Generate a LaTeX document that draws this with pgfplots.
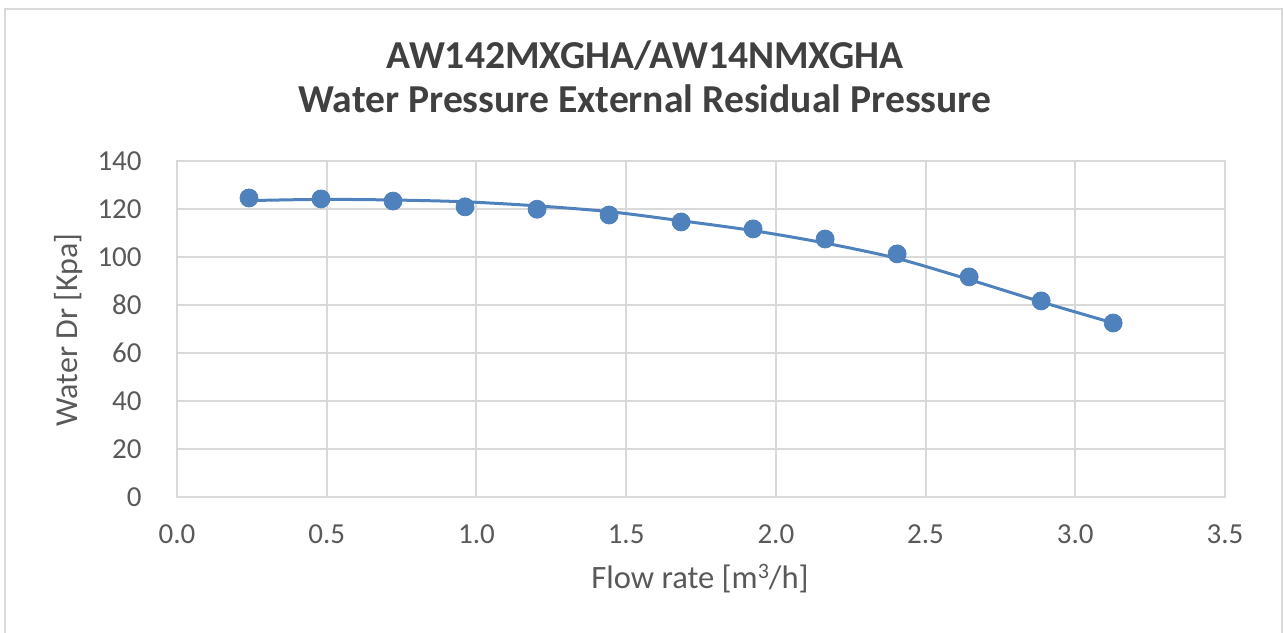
\documentclass[border=0pt]{standalone}
\usepackage{pgfplots}
\pgfplotsset{compat=1.18}
\usepackage{fontspec}
\setmainfont{Carlito}
\definecolor{ser}{RGB}{79,129,189}
\definecolor{txt}{RGB}{89,89,89}
\definecolor{ttl}{RGB}{64,64,64}
\definecolor{grd}{RGB}{217,217,217}
\begin{document}
\begin{tikzpicture}[x=0.5pt,y=0.5pt]
\useasboundingbox (0,0) rectangle (1284,632);
\draw[grd, line width=1pt] (5,623) rectangle (1282,-30);
\node[ttl, font=\fontsize{19.8}{23}\selectfont\bfseries, anchor=base] at (645,563) {AW142MXGHA/AW14NMXGHA};
\node[ttl, font=\fontsize{19.8}{23}\selectfont\bfseries, anchor=base] at (645,519) {Water Pressure External Residual Pressure};
\node[txt, font=\fontsize{16.3}{19}\selectfont, anchor=base] at (700,44) {Flow rate [m\raisebox{0.3em}{\fontsize{11}{12}\selectfont 3}/h]};
\node[txt, font=\fontsize{16}{19}\selectfont, anchor=base, rotate=90] at (78,302) {Water Dr [Kpa]};
\begin{axis}[
  at={(88.5pt,67.5pt)}, anchor=south west,
  scale only axis, width=524pt, height=168pt,
  xmin=0, xmax=3.5, ymin=0, ymax=140,
  xtick={0,0.5,1,1.5,2,2.5,3,3.5},
  ytick={0,20,40,60,80,100,120,140},
  grid=major,
  grid style={grd, line width=1pt},
  axis line style={grd, line width=1pt},
  major tick length=0pt,
  tick label style={txt, font=\fontsize{14.5}{17}\selectfont},
  /pgf/number format/assume math mode=true,
  x tick label style={/pgf/number format/fixed, /pgf/number format/fixed zerofill, /pgf/number format/precision=1},
  yticklabel style={inner sep=0pt, anchor=east, xshift=-17.5pt},
  xticklabel style={inner sep=0pt, anchor=north, yshift=-13.5pt},
  clip=false,
]
% fitted curve
\addplot[ser, line width=1.5pt, smooth, no marks] coordinates {
  (0.2405,123.5) (0.481,124.0) (0.7215,123.75) (0.962,123.0) (1.2025,121.3)
  (1.443,118.9) (1.6835,115.1) (1.924,111.0) (2.1645,105.8) (2.405,99.4)
  (2.6455,90.6) (2.886,81.3) (3.1265,72.5)
};
% measured points
\addplot[only marks, mark=*, mark size=4.5pt, mark options={fill=ser, draw=ser}] coordinates {
  (0.2405,124.6) (0.481,124.2) (0.7215,123.3) (0.962,120.9) (1.2025,119.9)
  (1.443,117.5) (1.6835,114.6) (1.924,111.7) (2.1645,107.5) (2.405,101.3)
  (2.6455,91.7) (2.886,81.7) (3.1265,72.5)
};
\end{axis}
\end{tikzpicture}
\end{document}
